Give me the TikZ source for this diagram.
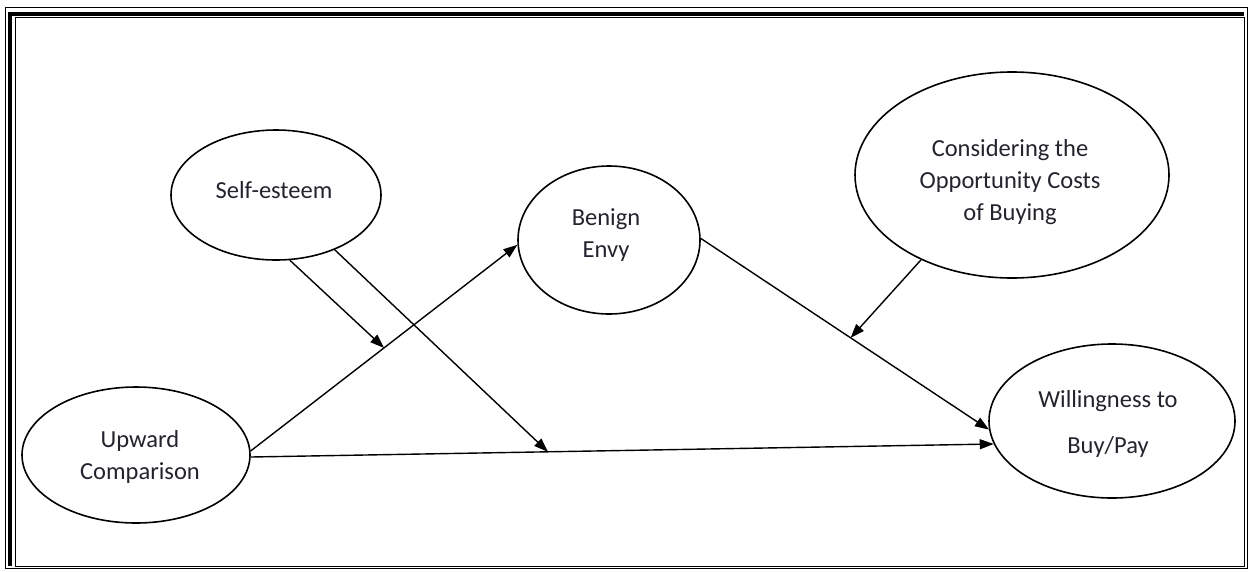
\documentclass[tikz,border=0pt]{standalone}
\usepackage{fontspec}
\setmainfont{Carlito}
\usetikzlibrary{arrows.meta,shapes.geometric,calc}
\definecolor{txt}{RGB}{35,35,45}
\begin{document}
\begin{tikzpicture}[x=1pt,y=-1pt,
  ell/.style={draw, line width=1.6pt, ellipse, inner sep=0pt},
  lbl/.style={align=center, font=\fontsize{24.5}{32}\selectfont, text=txt, inner sep=0pt},
  conn/.style={line width=1.4pt, -{Triangle[length=14pt,width=10pt]}},
  frameline/.style={line width=1pt}
]
\useasboundingbox (0,0) rectangle (1249,571);
% page border
\draw[frameline] (5.5,7) rectangle (1247,568.5);
\fill (8,12) rectangle (11.5,566);
\fill (8,12) rectangle (1244,15.5);
\draw[frameline] (15,17.5) rectangle (1244,566);

% ellipses
\node[ell, minimum width=210pt, minimum height=130pt] (se) at (276,195) {};
\node[ell, minimum width=182pt, minimum height=148pt] (be) at (609,240) {};
\node[ell, minimum width=314pt, minimum height=206pt] (co) at (1012,175) {};
\node[ell, minimum width=246pt, minimum height=154pt] (wi) at (1112,421) {};
\node[ell, minimum width=228pt, minimum height=136pt] (up) at (136,455) {};

% labels
\node[lbl] (se-t) at (274,190) {Self-esteem};
\node[lbl] (be-t) at (606,235) {Benign\\Envy};
\node[lbl] (co-t) at (1010,182) {Considering the\\Opportunity Costs\\of Buying};
\node[lbl, font=\fontsize{24.5}{46}\selectfont] (wi-t) at (1108,424) {Willingness to\\Buy/Pay};
\node[lbl] (up-t) at (140,457) {Upward\\Comparison};

% connectors
\draw[conn] (up.2) -- (be.183);
\draw[conn] (up.-1) -- (wi.191);
\draw[conn] (be.1) -- (wi.184);
\coordinate (m1) at ($(up.2)!0.5!(be.183)$);
\coordinate (m2) at ($(up.-1)!0.4!(wi.191)$);
\coordinate (m3) at ($(be.1)!0.52!(wi.184)$);
\draw[conn] (se.-78.7) -- (m1);
\draw[conn] (se.-43) -- (m2);
\draw[conn] (co.223) -- (m3);
\end{tikzpicture}
\end{document}
